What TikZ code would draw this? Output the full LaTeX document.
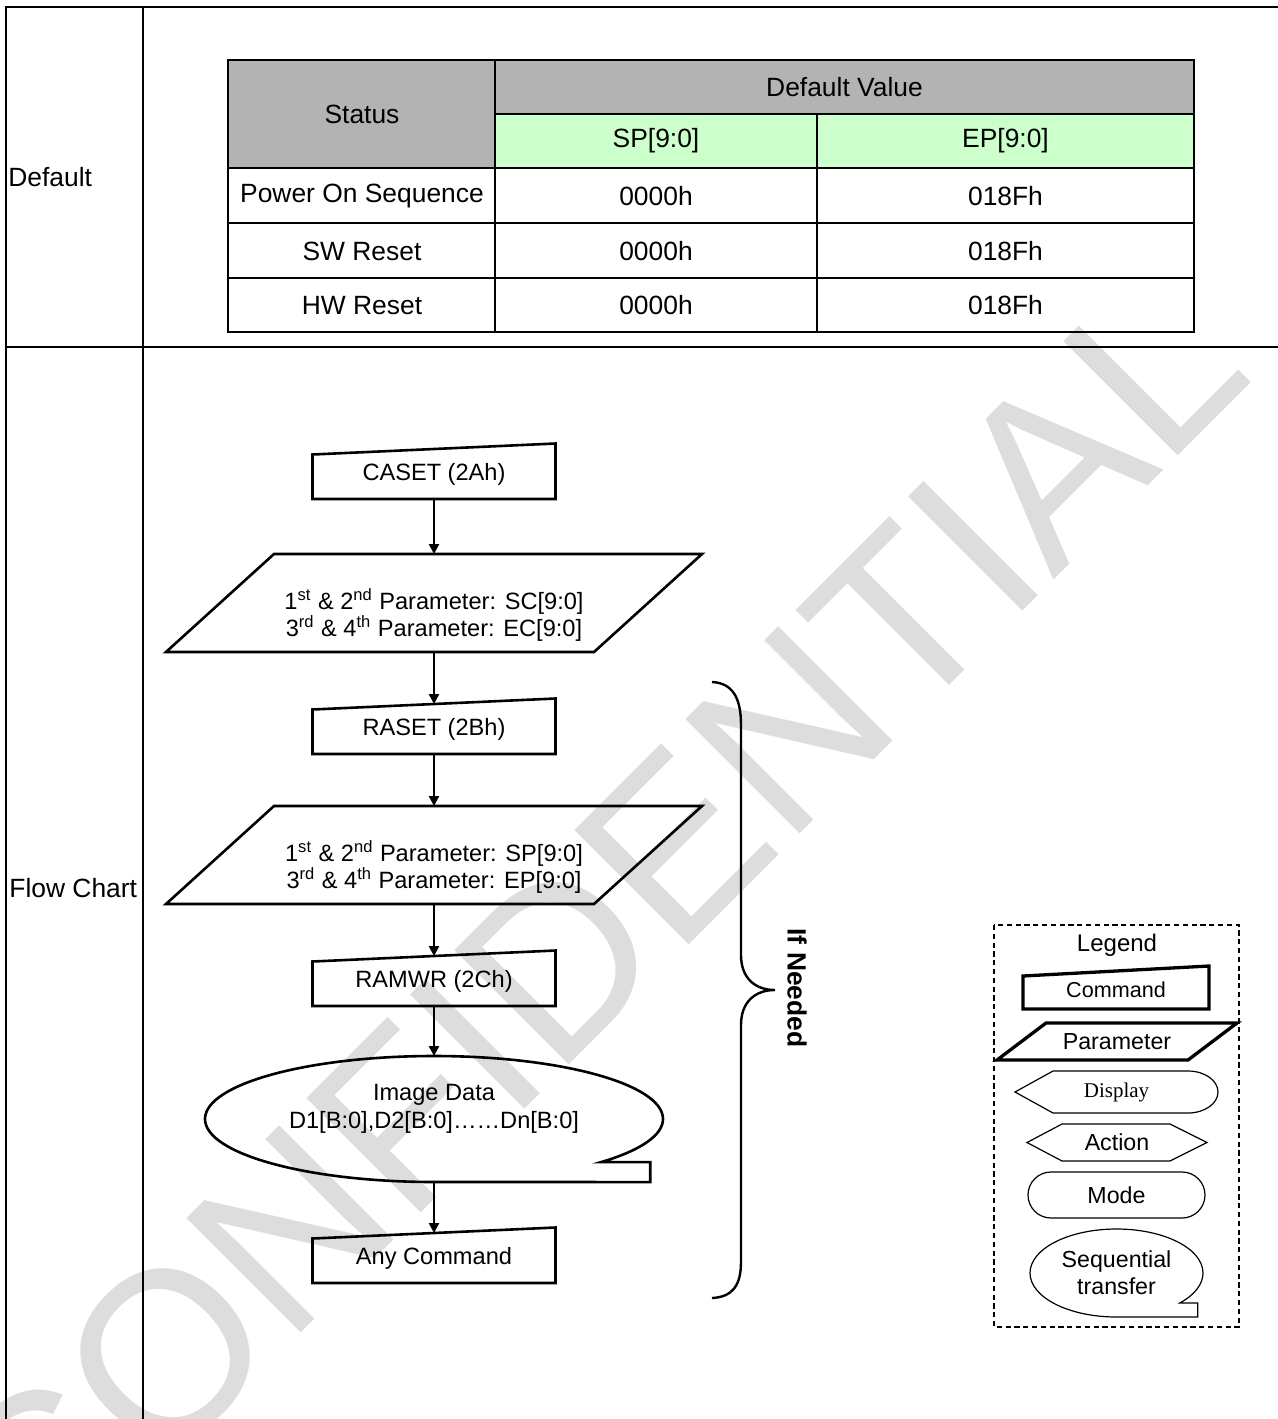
\documentclass[tikz,border=0pt]{standalone}
\usepackage{fontspec}
\setmainfont{Liberation Sans}
\newfontfamily\serifdisp{Liberation Serif}
\usetikzlibrary{arrows.meta,calc}
\definecolor{hdrgray}{RGB}{179,179,179}
\definecolor{hdrgreen}{RGB}{204,255,204}
\definecolor{wmgray}{RGB}{221,221,221}
\newcommand\mycmdshape[2]{\draw[#2] (#1.south west) -- ($(#1.north west)+(0,5.5)$) -- ($(#1.north east)+(0,-5.5)$) -- (#1.south east) -- cycle;}
\newcommand\myparshape[3]{\draw[#3] ($(#1.north west)+(#2,0)$) -- (#1.north east) -- ($(#1.south east)+(-#2,0)$) -- (#1.south west) -- cycle;}
\begin{document}
\begin{tikzpicture}[x=0.5pt,y=-0.5pt,
  framel/.style={line width=1pt},
  tbl/.style={line width=1pt},
  shp/.style={line width=1.3pt, line join=miter},
  arr/.style={line width=1.2pt, -{Triangle[length=5pt,width=5pt]}},
  anchorbox/.style={inner sep=0pt, outer sep=0pt, draw=none},
  tabtxt/.style={font=\fontsize{13.2}{16}\selectfont, inner sep=0pt},
  flowtxt/.style={font=\fontsize{11.8}{13.8}\selectfont, align=center, inner sep=0pt},
  legtxt/.style={font=\fontsize{11.6}{13.6}\selectfont, align=center, inner sep=0pt},
  thinshp/.style={line width=0.6pt},
  thickshp/.style={line width=1.65pt, line join=miter},
]
\useasboundingbox (0,0) rectangle (1278,1419);

% watermark
\node[anchor=base west, rotate=45, inner sep=0pt, text=wmgray,
      font=\fontsize{117.5}{120}\selectfont] (wm) at (38,1596) {CONFIDENTIAL};

% outer frame
\draw[framel] (1278,7) -- (6,7) -- (6,1419);
\draw[framel] (143,7) -- (143,1419);
\draw[framel] (6,347) -- (1278,347);

\node[tabtxt, anchor=west] (deflbl) at (8,177) {Default};
\node[tabtxt, anchor=west] (flowlbl) at (9,888) {Flow Chart};

% default value table
\fill[hdrgray] (228,60) rectangle (495,168);
\fill[hdrgray] (495,60) rectangle (1194,114);
\fill[hdrgreen] (495,114) rectangle (1194,168);
\draw[tbl] (228,60) rectangle (1194,332);
\draw[tbl] (495,114) -- (1194,114);
\draw[tbl] (228,168) -- (1194,168);
\draw[tbl] (228,223) -- (1194,223);
\draw[tbl] (228,278) -- (1194,278);
\draw[tbl] (495,60) -- (495,332);
\draw[tbl] (817,114) -- (817,332);

\node[tabtxt] (hstat) at (362,114) {Status};
\node[tabtxt] (hdef) at (844.5,87) {Default Value};
\node[tabtxt] (hsp) at (656,141) {SP[9:0]};
\node[tabtxt] (hep) at (1005.5,141) {EP[9:0]};
\node[tabtxt] (r1a) at (362,196) {Power On Sequence};
\node[tabtxt] (r1b) at (656,196) {0000h};
\node[tabtxt] (r1c) at (1005.5,196) {018Fh};
\node[tabtxt] (r2a) at (362,251) {SW Reset};
\node[tabtxt] (r2b) at (656,251) {0000h};
\node[tabtxt] (r2c) at (1005.5,251) {018Fh};
\node[tabtxt] (r3a) at (362,305.5) {HW Reset};
\node[tabtxt] (r3b) at (656,305.5) {0000h};
\node[tabtxt] (r3c) at (1005.5,305.5) {018Fh};

% flow chart
\node[anchorbox, flowtxt, minimum width=121.5pt, minimum height=25pt] (caset) at (434,474) {CASET (2Ah)};
\mycmdshape{caset}{shp}
\node[anchorbox, minimum width=268pt, minimum height=49pt] (p1) at (434,603) {};
\myparshape{p1}{108}{shp}
\node[flowtxt] (p1t) at ($(p1)+(0,12)$) {1\textsuperscript{st} \& 2\textsuperscript{nd} Parameter: SC[9:0]\\3\textsuperscript{rd} \& 4\textsuperscript{th} Parameter: EC[9:0]};

\node[anchorbox, flowtxt, minimum width=121.5pt, minimum height=25pt] (raset) at (434,729) {RASET (2Bh)};
\mycmdshape{raset}{shp}
\node[anchorbox, minimum width=268pt, minimum height=49pt] (p2) at (434,855) {};
\myparshape{p2}{108}{shp}
\node[flowtxt] (p2t) at ($(p2)+(0,12)$) {1\textsuperscript{st} \& 2\textsuperscript{nd} Parameter: SP[9:0]\\3\textsuperscript{rd} \& 4\textsuperscript{th} Parameter: EP[9:0]};

\node[anchorbox, flowtxt, minimum width=121.5pt, minimum height=25pt] (ramwr) at (434,981) {RAMWR (2Ch)};
\mycmdshape{ramwr}{shp}

\node[anchorbox, minimum width=229pt, minimum height=63pt] (img) at (434,1119) {};
\draw[shp] (img.south) arc[start angle=90, end angle=403.1, x radius=229, y radius=63] -- ++(49,0) -- ++(0,20) -- cycle;
\node[flowtxt] (imgt) at ($(img)+(0,-10)$) {Image Data\\D1[B:0],D2[B:0]……Dn[B:0]};

\node[anchorbox, flowtxt, minimum width=121.5pt, minimum height=25pt] (anyc) at (434,1258) {Any Command};
\mycmdshape{anyc}{shp}

\draw[arr] (caset.south) -- (p1.north);
\draw[arr] (p1.south) -- (raset.north);
\draw[arr] (raset.south) -- (p2.north);
\draw[arr] (p2.south) -- (ramwr.north);
\draw[arr] (ramwr.south) -- (img.north);
\draw[arr] (img.south) -- (anyc.north);

% brace
\coordinate (brtop) at (712,682);
\coordinate (brtip) at (775,990);
\coordinate (brbot) at (712,1298);
\draw[line width=1.2pt] (brtop) .. controls (732,683) and (741,697) .. (741,725) -- (741,955)
  .. controls (741,978) and (755,990) .. (brtip)
  .. controls (755,990) and (741,1002) .. (741,1025) -- (741,1262)
  .. controls (741,1286) and (732,1297) .. (brbot);
\node[font=\bfseries\fontsize{13.2}{16}\selectfont, rotate=-90, inner sep=0pt] (ifn) at (797,988) {If Needed};

% legend
\draw[line width=0.65pt, dash pattern=on 2.6pt off 1.8pt] (994,925) rectangle (1239,1327);
\node[legtxt, font=\fontsize{12}{14}\selectfont] (legt) at (1117,945) {Legend};

\node[anchorbox, legtxt, font=\fontsize{10.8}{13}\selectfont, minimum width=93pt, minimum height=19pt] (lcmd) at (1116,990) {Command};
\draw[thickshp] (lcmd.south west) -- ($(lcmd.north west)+(0,5)$) -- ($(lcmd.north east)+(0,-5)$) -- (lcmd.south east) -- cycle;

\node[anchorbox, legtxt, minimum width=120pt, minimum height=18.5pt] (lpar) at (1117,1041.5) {Parameter};
\myparshape{lpar}{49}{thickshp}

\node[anchorbox, font=\serifdisp\fontsize{10.5}{12}\selectfont, minimum width=101.5pt, minimum height=21pt] (ldisp) at (1116.5,1092) {Display};
\draw[thinshp] (ldisp.west) -- ($(ldisp.north west)+(38,0)$) -- ($(ldisp.north east)+(-30,0)$)
  arc[start angle=270, end angle=450, x radius=30, y radius=21] -- ($(ldisp.south west)+(38,0)$) -- cycle;

\node[anchorbox, legtxt, minimum width=90pt, minimum height=18.5pt] (lact) at (1117,1142.5) {Action};
\draw[thinshp] (lact.west) -- ($(lact.north west)+(35,0)$) -- ($(lact.north east)+(-37,0)$) -- (lact.east)
  -- ($(lact.south east)+(-37,0)$) -- ($(lact.south west)+(35,0)$) -- cycle;

\node[draw, thinshp, rounded corners=11.5pt, minimum width=88.5pt, minimum height=23pt, inner sep=0pt, legtxt] (lmode) at (1116.5,1195) {Mode};

\node[anchorbox, legtxt, minimum width=86.5pt, minimum height=44pt] (lseq) at (1116.5,1273) {Sequential\\transfer};
\draw[thinshp] (lseq.south) arc[start angle=90, end angle=403, x radius=86.5, y radius=44] -- ++(18,0) -- ++(0,14) -- cycle;
\end{tikzpicture}
\end{document}
